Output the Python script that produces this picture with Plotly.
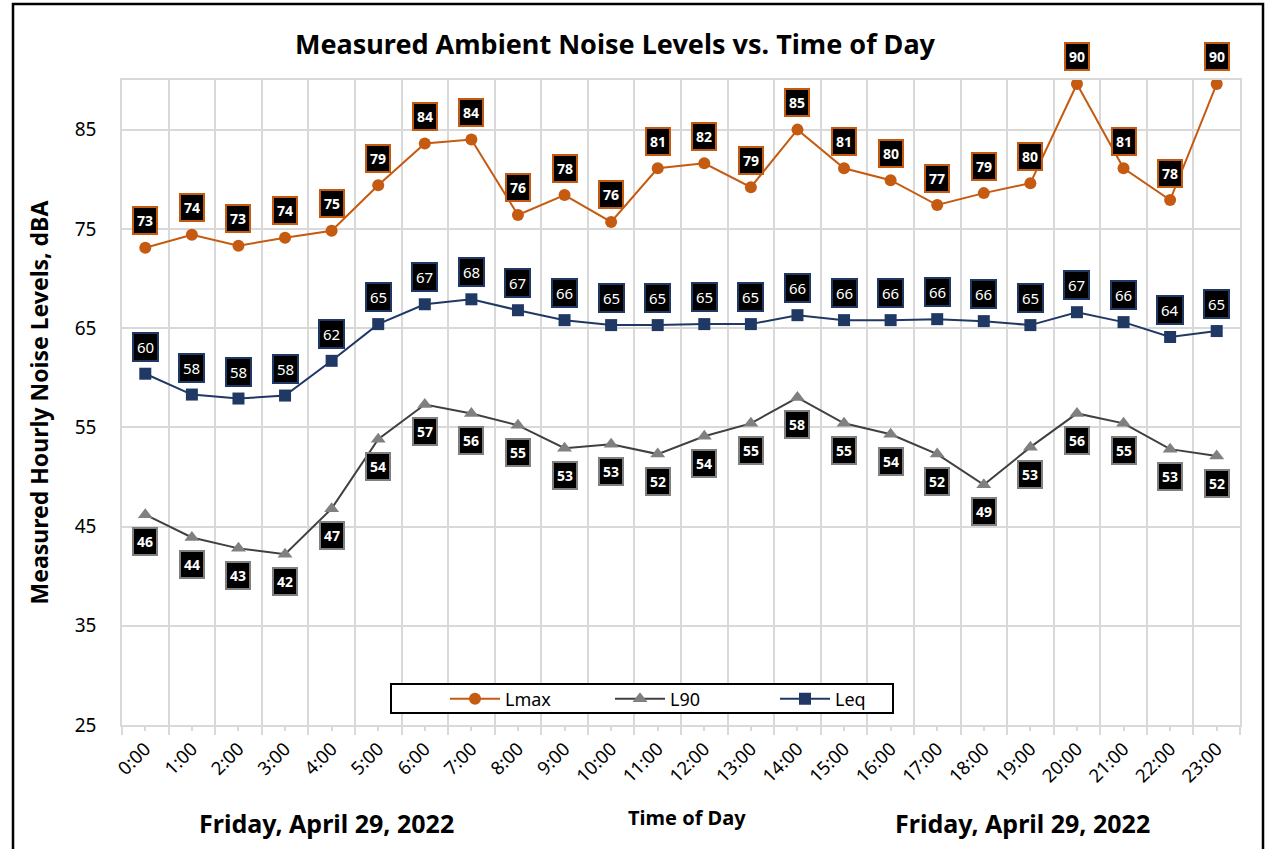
import plotly.graph_objects as go

hours = ["0:00", "1:00", "2:00", "3:00", "4:00", "5:00", "6:00", "7:00", "8:00", "9:00",
         "10:00", "11:00", "12:00", "13:00", "14:00", "15:00", "16:00", "17:00", "18:00",
         "19:00", "20:00", "21:00", "22:00", "23:00"]
lmax = [73.1, 74.4, 73.3, 74.1, 74.8, 79.4, 83.6, 84.0, 76.4, 78.4, 75.7, 81.1,
        81.6, 79.2, 85.0, 81.1, 79.9, 77.4, 78.6, 79.6, 89.6, 81.1, 77.9, 89.6]
l90 = [46.2, 43.9, 42.8, 42.2, 46.8, 53.8, 57.3, 56.4, 55.2, 52.9, 53.3, 52.3,
       54.1, 55.4, 58.0, 55.4, 54.3, 52.3, 49.2, 53.0, 56.4, 55.4, 52.8, 52.1]
leq = [60.4, 58.3, 57.9, 58.2, 61.7, 65.4, 67.4, 67.9, 66.8, 65.8, 65.3, 65.3,
       65.4, 65.4, 66.3, 65.8, 65.8, 65.9, 65.7, 65.3, 66.6, 65.6, 64.1, 64.7]
date_label = "Friday, April 29, 2022"

W, H = 1269, 849
ML, MR, MT, MB = 122, 29, 80, 124
PW, PH = W - ML - MR, H - MT - MB


def px_x(p):
    return (p - ML) / PW


def px_y(p):
    return (H - MB - p) / PH


FONT = "Noto Sans"
C_LMAX = "#C55A11"
C_L90_LINE = "#404040"
C_L90_MK = "#808080"
C_LEQ = "#1F3864"
GRID = "#D9D9D9"

idx = list(range(len(hours)))

fig = go.Figure()
fig.add_trace(go.Scatter(x=idx, y=lmax, name="Lmax", mode="lines+markers",
                         line=dict(color=C_LMAX, width=2),
                         marker=dict(symbol="circle", size=12, color=C_LMAX)))
fig.add_trace(go.Scatter(x=idx, y=l90, name="L90", mode="lines+markers",
                         line=dict(color=C_L90_LINE, width=2),
                         marker=dict(symbol="triangle-up", size=13, color=C_L90_MK)))
fig.add_trace(go.Scatter(x=idx, y=leq, name="Leq", mode="lines+markers",
                         line=dict(color=C_LEQ, width=2),
                         marker=dict(symbol="square", size=12, color=C_LEQ)))

annotations = []
for series, border, shift, weight, fsize in ((lmax, C_LMAX, 27, "bold", 14),
                                             (leq, C_LEQ, 27, "normal", 15),
                                             (l90, C_L90_MK, -27, "bold", 14)):
    for i, v in zip(idx, series):
        annotations.append(dict(x=i, y=v, xref="x", yref="y", text=f"{v:.0f}",
                                yshift=shift, showarrow=False, bgcolor="black",
                                bordercolor=border, borderwidth=2, borderpad=3,
                                font=dict(family=FONT, size=fsize, color="white", weight=weight)))

annotations += [
    dict(x=px_x(38), y=0.5, xref="paper", yref="paper", text="Measured Hourly Noise Levels, dBA",
         textangle=-90, showarrow=False, xanchor="center", yanchor="middle",
         font=dict(family=FONT, size=23, color="black", weight="bold")),
    dict(x=px_x(687), y=px_y(817), xref="paper", yref="paper", text="Time of Day",
         showarrow=False, xanchor="center", yanchor="middle",
         font=dict(family=FONT, size=20, color="black", weight="bold")),
    dict(x=px_x(326), y=px_y(823), xref="paper", yref="paper", text=date_label,
         showarrow=False, xanchor="center", yanchor="middle",
         font=dict(family=FONT, size=25, color="black", weight="bold")),
    dict(x=px_x(1022), y=px_y(823), xref="paper", yref="paper", text=date_label,
         showarrow=False, xanchor="center", yanchor="middle",
         font=dict(family=FONT, size=25, color="black", weight="bold")),
]

shapes = [
    dict(type="rect", xref="paper", yref="paper",
         x0=px_x(391), x1=px_x(893), y0=px_y(713), y1=px_y(684),
         fillcolor="white", line=dict(color="black", width=2), layer="above"),
    dict(type="rect", xref="paper", yref="paper",
         x0=px_x(13), x1=px_x(1263), y0=px_y(860), y1=px_y(4),
         fillcolor="rgba(0,0,0,0)", line=dict(color="black", width=2.5), layer="above"),
]

fig.update_layout(
    width=W, height=H,
    margin=dict(l=ML, r=MR, t=MT, b=MB),
    paper_bgcolor="white", plot_bgcolor="white",
    font=dict(family=FONT, color="black"),
    title=dict(text="Measured Ambient Noise Levels vs. Time of Day",
               x=615 / W, xanchor="center", xref="container",
               y=1 - 45 / H, yanchor="middle", yref="container",
               font=dict(family=FONT, size=27, color="black", weight="bold")),
    showlegend=True,
    legend=dict(orientation="h", x=px_x(445), xanchor="left",
                y=px_y(699), yanchor="middle", bgcolor="rgba(0,0,0,0)",
                borderwidth=0, font=dict(family=FONT, size=18, color="black"),
                entrywidth=100, itemwidth=50),
    annotations=annotations,
    shapes=shapes,
)

fig.update_xaxes(
    range=[-0.5, len(hours) - 0.5],
    tickmode="array", tickvals=idx, ticktext=hours, tickangle=-45,
    ticks="outside", ticklen=4, tickcolor=GRID, tickwidth=1.5,
    tickfont=dict(family=FONT, size=18.5, color="black"),
    showgrid=False, zeroline=False,
    showline=True, linecolor=GRID, linewidth=1.5, mirror=True,
    minor=dict(tick0=-0.5, dtick=1, ticks="outside", ticklen=8, tickcolor=GRID,
               tickwidth=1.5, showgrid=True, gridcolor=GRID, gridwidth=1.5),
)
fig.update_yaxes(
    range=[25, 90], tick0=25, dtick=10,
    showgrid=True, gridcolor=GRID, gridwidth=1.5, zeroline=False,
    showline=True, linecolor=GRID, linewidth=1.5, mirror=True,
    ticks="", ticklabelstandoff=20,
    tickfont=dict(family=FONT, size=19, color="black"),
)

fig.write_html("out.html", config={"displayModeBar": False},
               post_script="document.body.style.margin='0';")
